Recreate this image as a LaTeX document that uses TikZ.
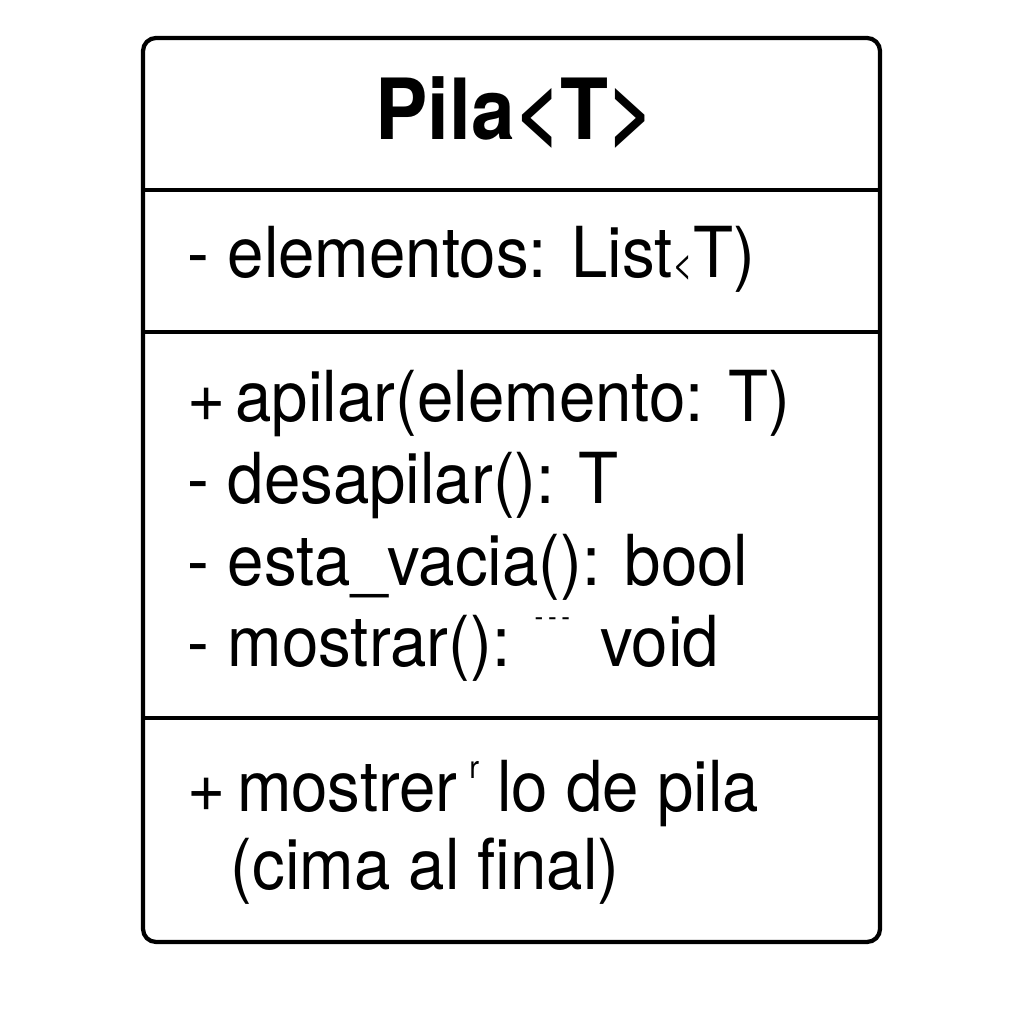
\documentclass[tikz,border=0pt]{standalone}
\usepackage{fontspec}
\setmainfont[FakeStretch=0.93]{TeX Gyre Heros}
\tikzset{
	member/.style={anchor=base west, inner sep=0pt, font=\fontsize{20}{24}\selectfont},
	classname/.style={anchor=base, inner sep=0pt, font=\fontsize{24}{28}\selectfont\bfseries}
}
\begin{document}
\begin{tikzpicture}[x=0.01cm, y=0.01cm]
				\useasboundingbox (0, 0) rectangle (1024, 1024);
				\draw[line width=1.2pt, rounded corners=0.13cm] (143, 986) rectangle (880, 82);
				\draw[line width=1.2pt] (143, 834) -- (880, 834);
				\draw[line width=1.2pt] (143, 692) -- (880, 692);
				\draw[line width=1.2pt] (143, 306) -- (880, 306);

				\node[classname] (nombre) at (515, 884) {Pila<T>};

				\node[member] (elementos) at (187, 746) {- elementos: List{\fontsize{11}{11}\selectfont<}T)};

				\node[member] (apilar) at (187, 602) {+\hspace{-0.12em} apilar(elemento: T)};
				\node[member] (desapilar) at (187, 520) {- desapilar(): T};
				\node[member] (vacia) at (187, 438) {- esta\_vacia(): bool};
				\node[member] (mostrar) at (187, 357) {- mostrar(): \raisebox{1.1ex}{\fontsize{8}{8}\selectfont -\,-\,-}\, void};

				\node[member] (nota) at (187, 212) {+\hspace{-0.1em} mostrer\,\raisebox{0.9ex}{\fontsize{9}{9}\selectfont r} lo de pila};
				\node[member] (cima) at (230, 134) {(cima al final)};

			\end{tikzpicture}
\end{document}
